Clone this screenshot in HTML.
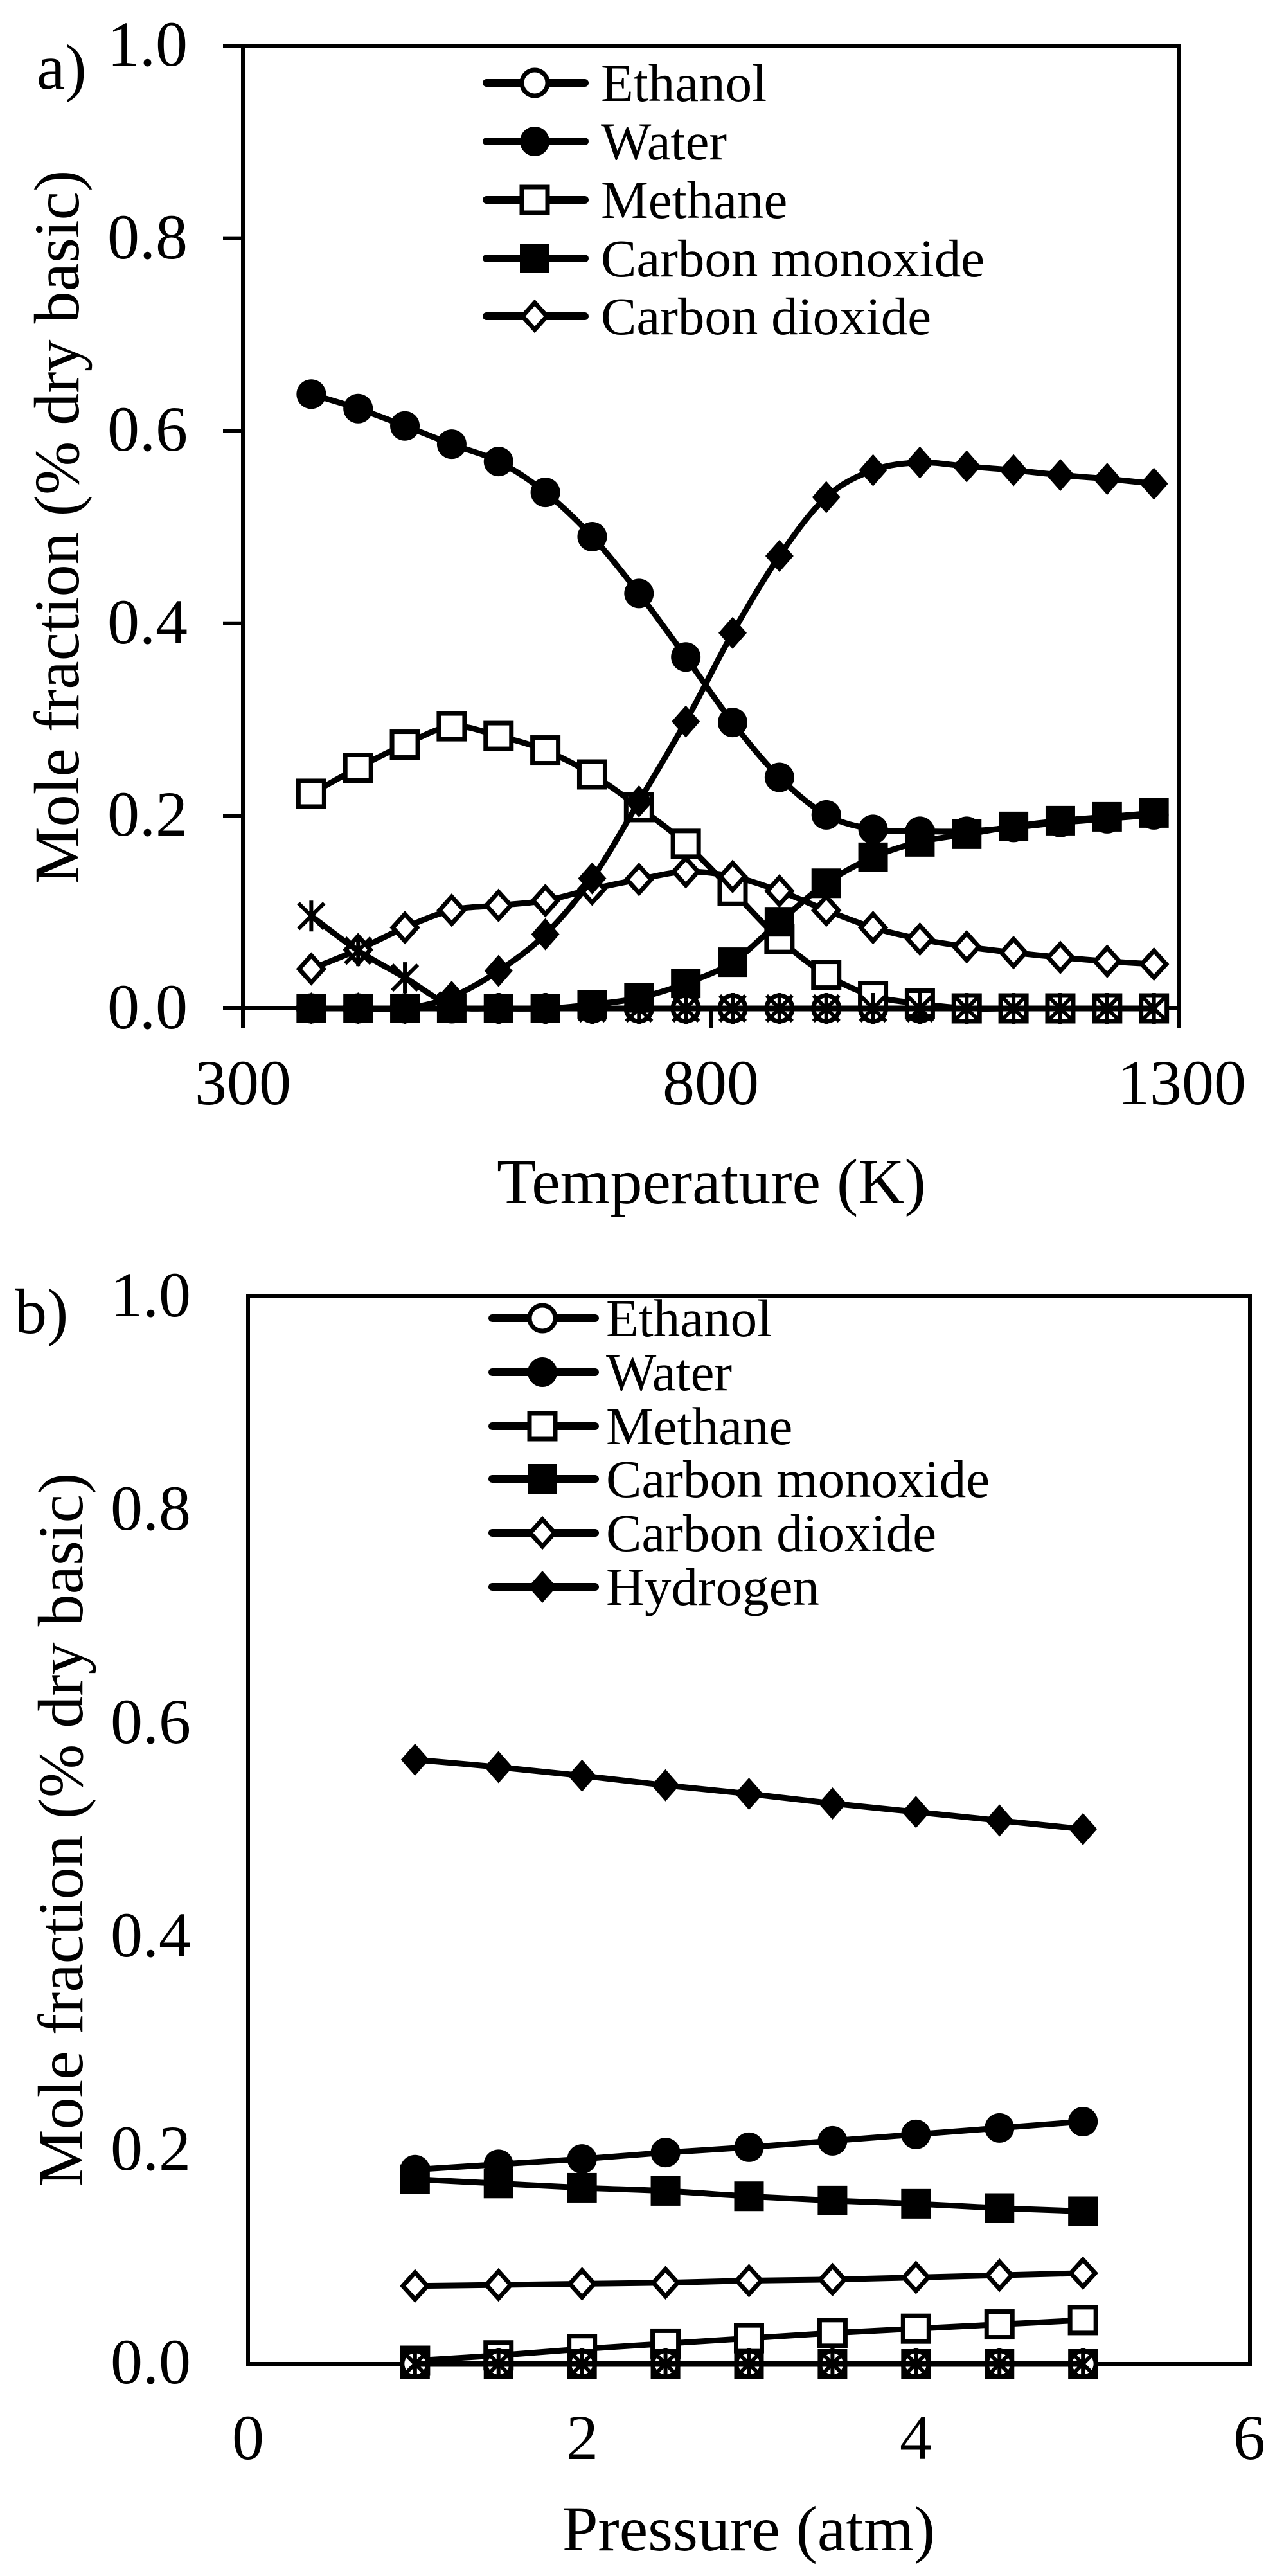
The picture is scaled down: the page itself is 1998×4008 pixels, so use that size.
<!DOCTYPE html>
<html><head><meta charset="utf-8">
<style>
html,body{margin:0;padding:0;background:#fff;}
svg{display:block;}
text{font-family:"Liberation Serif","Times New Roman",serif;fill:#000;}
</style></head>
<body>
<svg id="s" xmlns="http://www.w3.org/2000/svg" width="1998" height="4008" viewBox="0 0 1998 4008">
<rect width="1998" height="4008" fill="#fff"/>
<rect x="378" y="71" width="1457" height="1498" fill="none" stroke="#000" stroke-width="6"/>
<g stroke="#000" stroke-width="6">
<line x1="347" y1="71" x2="378" y2="71"/><line x1="347" y1="370.6" x2="378" y2="370.6"/>
<line x1="347" y1="670.2" x2="378" y2="670.2"/><line x1="347" y1="969.8" x2="378" y2="969.8"/>
<line x1="347" y1="1269.4" x2="378" y2="1269.4"/><line x1="347" y1="1569" x2="378" y2="1569"/>
<line x1="378" y1="1569" x2="378" y2="1599"/><line x1="1106.5" y1="1569" x2="1106.5" y2="1599"/><line x1="1835" y1="1569" x2="1835" y2="1599"/>
</g>
<g font-size="100" text-anchor="end">
<text x="292" y="102">1.0</text><text x="292" y="402">0.8</text><text x="292" y="701">0.6</text>
<text x="292" y="1001">0.4</text><text x="292" y="1300">0.2</text><text x="292" y="1600">0.0</text>
</g>
<g font-size="100" text-anchor="middle">
<text x="378" y="1718">300</text><text x="1106" y="1718">800</text><text x="1839" y="1718">1300</text>
<text x="1107" y="1872">Temperature (K)</text>
</g>
<text x="57" y="138" font-size="100">a)</text>
<text transform="translate(122,820) rotate(-90)" font-size="100" text-anchor="middle">Mole fraction (% dry basic)</text>

<rect x="386" y="2017" width="1559" height="1661" fill="none" stroke="#000" stroke-width="6"/>
<g font-size="100" text-anchor="end">
<text x="297" y="2048">1.0</text><text x="297" y="2380">0.8</text><text x="297" y="2712">0.6</text>
<text x="297" y="3044">0.4</text><text x="297" y="3376">0.2</text><text x="297" y="3708">0.0</text>
</g>
<g font-size="100" text-anchor="middle">
<text x="386" y="3826">0</text><text x="906" y="3826">2</text><text x="1425" y="3826">4</text><text x="1944" y="3826">6</text>
<text x="1165" y="3968">Pressure (atm)</text>
</g>
<text x="23" y="2074" font-size="100">b)</text>
<text transform="translate(128,2847) rotate(-90)" font-size="100" text-anchor="middle">Mole fraction (% dry basic)</text>

<g id="series"></g>
<g font-size="83">
<text x="935" y="157">Ethanol</text><text x="935" y="248">Water</text><text x="935" y="339">Methane</text>
<text x="935" y="430">Carbon monoxide</text><text x="935" y="520">Carbon dioxide</text>
<text x="943" y="2079">Ethanol</text><text x="943" y="2163">Water</text><text x="943" y="2247">Methane</text>
<text x="943" y="2329">Carbon monoxide</text><text x="943" y="2413">Carbon dioxide</text><text x="943" y="2497">Hydrogen</text>
</g>
</svg>
<script>
(function(){
var NS="http://www.w3.org/2000/svg",g=document.getElementById("series");
function el(t,a){var e=document.createElementNS(NS,t);for(var k in a)e.setAttribute(k,a[k]);g.appendChild(e);return e;}
function marker(type,x,y){
 var sw=7;
 if(type=="oc")el("circle",{cx:x,cy:y,r:20,fill:"#fff",stroke:"#000","stroke-width":sw});
 else if(type=="fc")el("circle",{cx:x,cy:y,r:23,fill:"#000"});
 else if(type=="os")el("rect",{x:x-20,y:y-20,width:40,height:40,fill:"#fff",stroke:"#000","stroke-width":sw});
 else if(type=="fs")el("rect",{x:x-23,y:y-23,width:46,height:46,fill:"#000"});
 else if(type=="od")el("polygon",{points:(x)+","+(y-21)+" "+(x+19)+","+y+" "+x+","+(y+21)+" "+(x-19)+","+y,fill:"#fff",stroke:"#000","stroke-width":sw});
 else if(type=="fd")el("polygon",{points:(x)+","+(y-25)+" "+(x+22)+","+y+" "+x+","+(y+25)+" "+(x-22)+","+y,fill:"#000"});
 else if(type=="st"){el("path",{d:"M"+(x-20)+","+(y-20)+"L"+(x+20)+","+(y+20)+"M"+(x+20)+","+(y-20)+"L"+(x-20)+","+(y+20)+"M"+x+","+(y-24)+"L"+x+","+(y+24),stroke:"#000","stroke-width":6,fill:"none"});}
}
function smooth(p){
 var d="M"+p[0][0]+","+p[0][1];
 for(var i=0;i<p.length-1;i++){
  var p0=p[i-1]||p[i],p1=p[i],p2=p[i+1],p3=p[i+2]||p[i+1];
  var c1x=p1[0]+(p2[0]-p0[0])/6,c1y=p1[1]+(p2[1]-p0[1])/6,c2x=p2[0]-(p3[0]-p1[0])/6,c2y=p2[1]-(p3[1]-p1[1])/6;
  d+="C"+c1x+","+c1y+" "+c2x+","+c2y+" "+p2[0]+","+p2[1];
 }
 return d;
}
function series(xs,vals,X,Y,type){
 var p=xs.map(function(x,i){return [X(x),Y(vals[i])];});
 el("path",{d:smooth(p),fill:"none",stroke:"#000","stroke-width":9,"stroke-linejoin":"round"});
 p.forEach(function(q){marker(type,q[0],q[1]);});
}
var T=[];for(var i=0;i<19;i++)T.push(373+50*i);
var XA=function(t){return 378+(t-300)*1.457;},YA=function(v){return 1569-v*1498;};
var zA=[];for(i=0;i<19;i++)zA.push(0);
var eth=[0.096,0.06,0.032,0.003,0,0,0,0,0,0,0,0,0,0,0,0,0,0,0];
var wat=[0.638,0.623,0.605,0.586,0.568,0.536,0.49,0.431,0.365,0.297,0.24,0.201,0.186,0.184,0.184,0.188,0.193,0.197,0.201];
var met=[0.223,0.25,0.274,0.293,0.283,0.268,0.243,0.209,0.171,0.122,0.072,0.035,0.013,0.005,0,0,0,0,0];
var co=[0,0,0,0,0,0,0.004,0.011,0.026,0.048,0.09,0.13,0.157,0.173,0.181,0.189,0.195,0.199,0.203];
var co2=[0.041,0.061,0.084,0.102,0.107,0.112,0.124,0.134,0.142,0.137,0.122,0.102,0.084,0.072,0.064,0.058,0.053,0.049,0.046];
var h2=[0,0,0,0.012,0.039,0.077,0.135,0.215,0.298,0.39,0.47,0.531,0.559,0.567,0.563,0.559,0.554,0.55,0.545];
series(T,zA,XA,YA,"oc");
series(T,wat,XA,YA,"fc");series(T,met,XA,YA,"os");series(T,co,XA,YA,"fs");
series(T,co2,XA,YA,"od");series(T,h2,XA,YA,"fd");series(T,eth,XA,YA,"st");
var P=[1,1.5,2,2.5,3,3.5,4,4.5,5];
var XB=function(p){return 386+p*259.83;},YB=function(v){return 3678-v*1661;};
var z=[0,0,0,0,0,0,0,0,0];
series(P,[0.182,0.187,0.192,0.198,0.203,0.209,0.215,0.221,0.227],XB,YB,"fc");
series(P,[0.173,0.169,0.165,0.162,0.157,0.153,0.15,0.146,0.143],XB,YB,"fs");
series(P,[0.073,0.074,0.075,0.076,0.078,0.079,0.081,0.083,0.085],XB,YB,"od");
series(P,[0.566,0.559,0.551,0.542,0.534,0.525,0.517,0.509,0.501],XB,YB,"fd");
series(P,[0.003,0.008,0.014,0.019,0.024,0.029,0.033,0.037,0.041],XB,YB,"os");
series(P,z,XB,YB,"fs");series(P,z,XB,YB,"oc");series(P,z,XB,YB,"st");
function leg(x1,x2,xm,y,type){el("line",{x1:x1,y1:y,x2:x2,y2:y,stroke:"#000","stroke-width":12,"stroke-linecap":"round"});marker(type,xm,y);}
var la=[129,220,311,402,492],ta=["oc","fc","os","fs","od"];
la.forEach(function(y,i){leg(757,910,832,y,ta[i]);});
var lb=[2051,2135,2219,2301,2385,2469],tb=["oc","fc","os","fs","od","fd"];
lb.forEach(function(y,i){leg(766,926,844,y,tb[i]);});
})();
</script>
</body></html>
